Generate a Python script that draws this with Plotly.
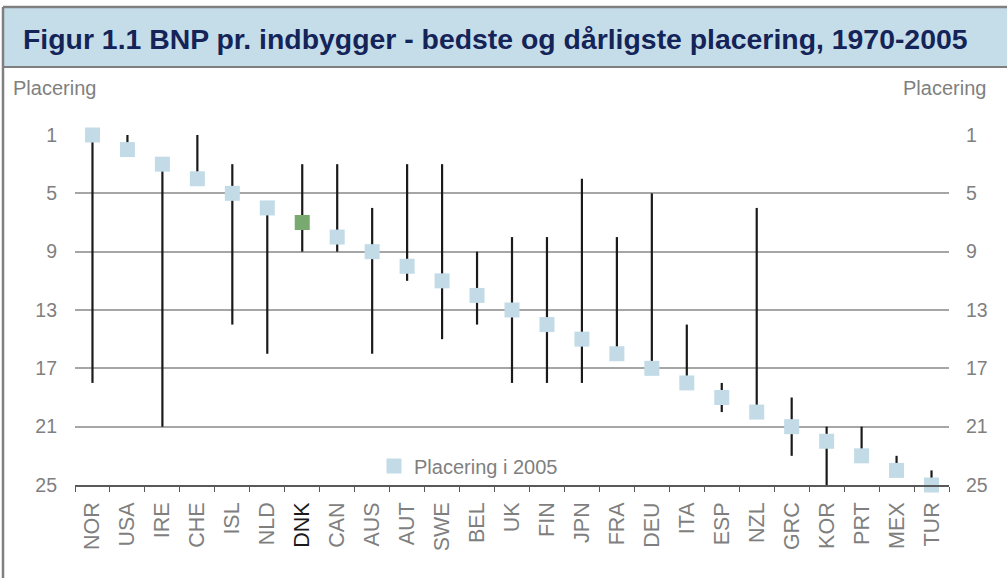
import plotly.graph_objects as go

countries = ["NOR", "USA", "IRE", "CHE", "ISL", "NLD", "DNK", "CAN", "AUS", "AUT",
             "SWE", "BEL", "UK", "FIN", "JPN", "FRA", "DEU", "ITA", "ESP", "NZL",
             "GRC", "KOR", "PRT", "MEX", "TUR"]
rank_2005 = [1, 2, 3, 4, 5, 6, 7, 8, 9, 10, 11, 12, 13, 14, 15, 16, 17, 18, 19, 20,
             21, 22, 23, 24, 25]
best_rank = [1, 1, 3, 1, 3, 6, 3, 3, 6, 3, 3, 9, 8, 8, 4, 8, 5, 14, 18, 6, 19, 21, 21, 23, 24]
worst_rank = [18, 2, 21, 4, 14, 16, 9, 9, 16, 11, 15, 14, 18, 18, 18, 16, 17, 18, 20, 20,
              23, 25, 23, 24, 25]
y_ticks = [1, 5, 9, 13, 17, 21, 25]
highlight = "DNK"

title_text = "Figur 1.1 BNP pr. indbygger - bedste og dårligste placering, 1970-2005"

FONT = "Liberation Sans, Arial, sans-serif"
GRAY = "#7f7f7f"

# plot area pixel geometry
L, R, T, B = 75, 949, 135, 485
W, H = 1007, 578
pw, ph = R - L, B - T


def px_x(x):
    return (x - L) / pw


def px_y(y):
    return (B - y) / ph


fig = go.Figure()

lx, ly = [], []
for c, b, w in zip(countries, best_rank, worst_rank):
    lx += [c, c, None]
    ly += [b, w, None]
fig.add_trace(go.Scatter(x=lx, y=ly, mode="lines", line=dict(color="#1a1a1a", width=2.2),
                         showlegend=False, hoverinfo="skip", cliponaxis=False))

bx = [c for c in countries if c != highlight]
by = [r for c, r in zip(countries, rank_2005) if c != highlight]
fig.add_trace(go.Scatter(x=bx, y=by, mode="markers", name="Placering i 2005",
                         marker=dict(symbol="square", size=15, color="#c2dbe7"),
                         cliponaxis=False))
hx = [c for c in countries if c == highlight]
hy = [r for c, r in zip(countries, rank_2005) if c == highlight]
fig.add_trace(go.Scatter(x=hx, y=hy, mode="markers", showlegend=False,
                         marker=dict(symbol="square", size=15, color="#78a96f"),
                         cliponaxis=False))
# invisible trace for right axis
fig.add_trace(go.Scatter(x=countries, y=rank_2005, yaxis="y2", mode="markers",
                         marker=dict(opacity=0), showlegend=False, hoverinfo="skip"))

ticktext = [f'<span style="color:#1a1a1a">{c}</span>' if c == highlight else c for c in countries]

fig.update_layout(
    width=W, height=H,
    margin=dict(l=L, r=W - R, t=T, b=H - B, pad=0),
    paper_bgcolor="white", plot_bgcolor="white",
    font=dict(family=FONT, color=GRAY, size=19),
    xaxis=dict(type="category", categoryorder="array", categoryarray=countries,
               tickvals=countries, ticktext=ticktext, tickangle=-90,
               showgrid=False, showline=True, linecolor="#595959", linewidth=1.5,
               ticks="outside", ticklen=5, tickcolor="#595959", tickson="boundaries",
               ticklabelstandoff=7, tickfont=dict(size=21.5, color=GRAY),
               range=[-0.5, len(countries) - 0.5]),
    yaxis=dict(range=[25, 1], tickvals=y_ticks, showgrid=True, gridcolor="#a6a6a6",
               gridwidth=1.5, zeroline=False, showline=False, ticks="",
               ticklabelstandoff=17, tickfont=dict(size=19.5, color=GRAY)),
    yaxis2=dict(range=[25, 1], tickvals=y_ticks, overlaying="y", side="right",
                showgrid=False, zeroline=False, showline=False, ticks="",
                ticklabelstandoff=16, tickfont=dict(size=19.5, color=GRAY)),
    legend=dict(x=px_x(374), y=px_y(466), xanchor="left", yanchor="middle",
                bgcolor="rgba(0,0,0,0)", font=dict(size=20, color=GRAY),
                itemwidth=30, tracegroupgap=0),
    showlegend=True,
)

# title bar
fig.add_shape(type="rect", xref="paper", yref="paper",
              x0=px_x(3), x1=px_x(1010), y0=px_y(67), y1=px_y(7),
              fillcolor="#c5dde9", line=dict(width=0), layer="below")
# borders
fig.add_shape(type="line", xref="paper", yref="paper", x0=px_x(3), x1=px_x(1010),
              y0=px_y(7), y1=px_y(7), line=dict(color="#7f7f7f", width=2.5))
fig.add_shape(type="line", xref="paper", yref="paper", x0=px_x(3), x1=px_x(1010),
              y0=px_y(67), y1=px_y(67), line=dict(color="#7f7f7f", width=2))
fig.add_shape(type="line", xref="paper", yref="paper", x0=px_x(3), x1=px_x(3),
              y0=px_y(7), y1=px_y(590), line=dict(color="#7f7f7f", width=2.5))

fig.add_annotation(text="<b>" + title_text + "</b>", xref="paper", yref="paper",
                   x=px_x(21), y=px_y(39), xanchor="left", yanchor="middle",
                   showarrow=False, font=dict(size=28.4, color="#142358", family=FONT))
fig.add_annotation(text="Placering", xref="paper", yref="paper",
                   x=px_x(11), y=px_y(88), xanchor="left", yanchor="middle",
                   showarrow=False, font=dict(size=20, color=GRAY))
fig.add_annotation(text="Placering", xref="paper", yref="paper",
                   x=px_x(988), y=px_y(88), xanchor="right", yanchor="middle",
                   showarrow=False, font=dict(size=20, color=GRAY))

fig.write_html("out.html", config={"displayModeBar": False},
               post_script="document.body.style.margin='0';")
